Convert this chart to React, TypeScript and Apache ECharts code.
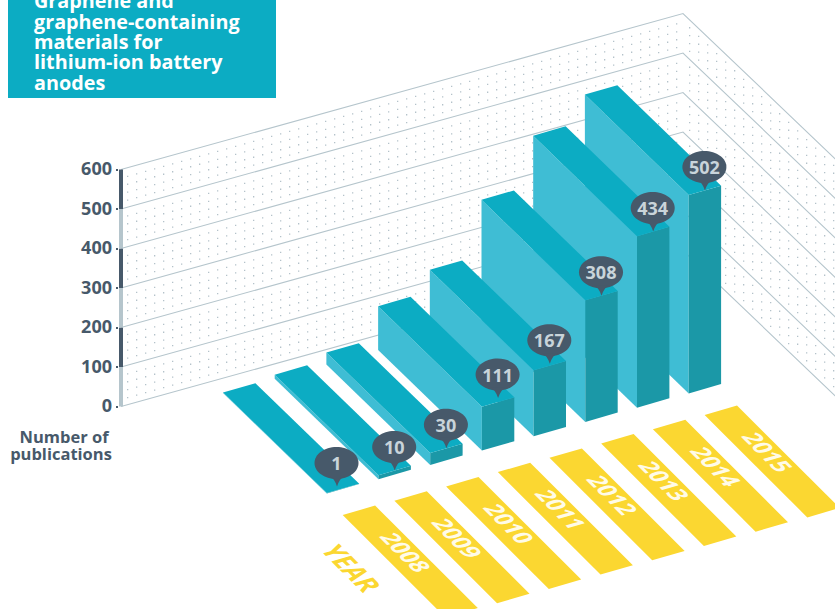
import React, { useEffect, useRef } from "react";
import * as echarts from "echarts";

const years = ["2008", "2009", "2010", "2011", "2012", "2013", "2014", "2015"];
const publications = [1, 10, 30, 111, 167, 308, 434, 502];
const levels = [0, 100, 200, 300, 400, 500, 600];
const titleLines = ["Graphene and", "graphene-containing", "materials for", "lithium-ion battery", "anodes"];

const FONT = '"Open Sans", sans-serif';
const SLATE = "#47596a";
const TEAL_TOP = "#0cacc3";
const TEAL_SIDE = "#3fbdd4";
const TEAL_FRONT = "#1b98a7";
const YELLOW = "#fbd731";
const WALL_LINE = "#b5c5cc";
const WALL_DOT = "#b4c2ca";

// Oblique projection of the floor plane, in pixels.
const BAR_ORIGIN = [223, 393];
const STRIP_ORIGIN = [342.7, 515];
const STEP_SLOPE = -14.3 / 51.7;
const ACROSS = [32.4, -9.4];
const ALONG = [103.8, 100.5];
const STRIP_ALONG = [102.7, 102.5];
const WALL_LEFT = 121;
const WALL_RUN = 562;
const WALL_RISE = 156;
const SIDE_SLOPE = 0.955;

// Small nudges that keep the crowded value markers clear of each other.
const bubbleNudge: Record<string, number[]> = { "2008": [-6, -2], "2011": [0, -4], "2012": [0, -2] };

const groundPoint = (api: any, index: number, origin: number[], along: number[], u: number, v: number) => {
  const dx = api.coord([index, 0])[0] - api.coord([0, 0])[0];
  return [
    origin[0] + dx + u * ACROSS[0] + v * along[0],
    origin[1] + dx * STEP_SLOPE + u * ACROSS[1] + v * along[1],
  ];
};

const barHeight = (api: any, index: number, value: number) =>
  api.coord([index, 0])[1] - api.coord([index, value])[1];

// Writes text on the floor plane: a rotate / scale / rotate split of the plane's affine map.
const floorText = (text: string, cx: number, cy: number, fontSize: number, stretch: number, lift: number, fill: string) => {
  const alen = Math.hypot(STRIP_ALONG[0], STRIP_ALONG[1]);
  const wlen = Math.hypot(ACROSS[0], ACROSS[1]);
  const m00 = (STRIP_ALONG[0] / alen) * stretch;
  const m10 = (STRIP_ALONG[1] / alen) * stretch;
  const m01 = (-ACROSS[0] / wlen) * lift;
  const m11 = (-ACROSS[1] / wlen) * lift;
  const e = (m00 + m11) / 2;
  const f = (m00 - m11) / 2;
  const g = (m10 + m01) / 2;
  const h = (m10 - m01) / 2;
  const q = Math.hypot(e, h);
  const r = Math.hypot(f, g);
  const a1 = Math.atan2(g, f);
  const a2 = Math.atan2(h, e);
  return {
    type: "group",
    x: cx,
    y: cy,
    rotation: -(a2 + a1) / 2,
    scaleX: q + r,
    scaleY: q - r,
    children: [
      {
        type: "text",
        rotation: -(a2 - a1) / 2,
        style: { text, fontSize, fontWeight: 700, fontFamily: FONT, fill, align: "center", verticalAlign: "middle" },
      },
    ],
  };
};

// Back and side walls: one rule per level, plus the dot rows of the band below it.
const renderWall = (_params: any, api: any) => {
  const level = api.value(1);
  const y = api.coord([0, level])[1];
  const cornerX = WALL_LEFT + WALL_RUN;
  const cornerY = y - WALL_RISE;
  const children: any[] = [
    {
      type: "polyline",
      shape: { points: [[WALL_LEFT, y], [cornerX, cornerY], [cornerX + 260, cornerY + 260 * SIDE_SLOPE]] },
      style: { stroke: WALL_LINE, lineWidth: 1.1, fill: "none" },
    },
  ];
  if (level > 0) {
    const below = api.coord([0, level - 100])[1];
    const rowGap = (below - y) / 5;
    let d = "";
    for (let k = 1; k <= 4; k++) {
      for (let x = WALL_LEFT + 6; x < cornerX - 2; x += 9) {
        const py = y + k * rowGap - (x - WALL_LEFT) * (WALL_RISE / WALL_RUN);
        d += `M${x.toFixed(1)} ${py.toFixed(1)}h1.3v1.3h-1.3z`;
      }
      for (let t = 6; t < 170; t += 9) {
        const py = cornerY + k * rowGap + t * SIDE_SLOPE;
        d += `M${(cornerX + t).toFixed(1)} ${py.toFixed(1)}h1.3v1.3h-1.3z`;
      }
    }
    children.push({ type: "path", shape: { pathData: d }, style: { fill: WALL_DOT } });
    children.push({
      type: "rect",
      shape: { x: WALL_LEFT - 2, y, width: 4, height: below - y },
      style: { fill: level % 200 === 0 ? SLATE : WALL_LINE },
    });
  }
  return { type: "group", children };
};

const renderBar = (_params: any, api: any) => {
  const i = api.value(0);
  const hgt = barHeight(api, i, api.value(1));
  const p = (u: number, v: number) => groundPoint(api, i, BAR_ORIGIN, ALONG, u, v);
  const up = (pt: number[]) => [pt[0], pt[1] - hgt];
  const bl = p(0, 0);
  const br = p(1, 0);
  const fr = p(1, 1);
  const fl = p(0, 1);
  return {
    type: "group",
    children: [
      { type: "polygon", shape: { points: [up(bl), up(fl), fl, bl] }, style: { fill: TEAL_SIDE } },
      { type: "polygon", shape: { points: [up(fl), up(fr), fr, fl] }, style: { fill: TEAL_FRONT } },
      { type: "polygon", shape: { points: [up(bl), up(br), up(fr), up(fl)] }, style: { fill: TEAL_TOP } },
    ],
  };
};

// Speech-bubble value marker whose tip sits on the middle of the bar's front top edge.
const renderBubble = (_params: any, api: any) => {
  const i = api.value(0);
  const value = api.value(1);
  const hgt = barHeight(api, i, value);
  const p = groundPoint(api, i, BAR_ORIGIN, ALONG, 0.5, 1);
  const nudge = bubbleNudge[years[i]] || [0, 0];
  const tx = p[0] + nudge[0];
  const ty = p[1] - hgt + nudge[1];
  const cx = tx - 0.5;
  const cy = ty - 23.5;
  const tail =
    `M${cx - 7} ${cy + 13}` +
    `Q${tx - 2.5} ${cy + 15.5} ${tx} ${ty}` +
    `Q${tx + 2.5} ${cy + 15.5} ${cx + 8} ${cy + 13}z`;
  return {
    type: "group",
    children: [
      { type: "ellipse", shape: { cx, cy, rx: 22, ry: 16 }, style: { fill: SLATE } },
      { type: "path", shape: { pathData: tail }, style: { fill: SLATE } },
      {
        type: "text",
        x: cx,
        y: cy,
        style: {
          text: String(value),
          fontSize: 18,
          fontWeight: 700,
          fontFamily: FONT,
          fill: "#c9d4da",
          align: "center",
          verticalAlign: "middle",
        },
      },
    ],
  };
};

const renderStrip = (_params: any, api: any) => {
  const i = api.value(0);
  const p = (u: number, v: number) => groundPoint(api, i, STRIP_ORIGIN, STRIP_ALONG, u, v);
  const c = p(0.62, 0.42);
  return {
    type: "group",
    children: [
      { type: "polygon", shape: { points: [p(0, 0), p(1, 0), p(1, 1), p(0, 1)] }, style: { fill: YELLOW } },
      floorText(years[i], c[0], c[1], 20, 1.15, 1.2, "#fffbe8"),
    ],
  };
};

const renderYearCaption = () => floorText("YEAR", 352, 568, 24, 1.02, 1.2, YELLOW);

const App = () => {
  const ref = useRef<HTMLDivElement>(null);
  useEffect(() => {
    const chart = echarts.init(ref.current, null, { renderer: "svg" });
    const barData = years.map((y, i) => [y, publications[i]]);
    chart.setOption({
      animation: false,
      backgroundColor: "#ffffff",
      grid: { left: 121, top: 169.5, width: 413.6, height: 237 },
      xAxis: { type: "category", data: years, show: false },
      yAxis: {
        type: "value",
        min: 0,
        max: 600,
        interval: 100,
        offset: 3,
        splitLine: { show: false },
        axisLine: { show: false },
        axisTick: { show: true, length: 2, lineStyle: { color: SLATE, width: 2 } },
        axisLabel: {
          margin: 6,
          formatter: "{v|{value}}",
          rich: {
            v: { color: SLATE, fontSize: 18, fontWeight: 700, fontFamily: FONT, padding: [0, 0, 3, 0] },
          },
        },
      },
      graphic: [
        { type: "rect", shape: { x: 8, y: 0, width: 268, height: 98 }, style: { fill: TEAL_TOP } },
        {
          type: "text",
          x: 34,
          y: -9.4,
          style: {
            text: titleLines.join("\n"),
            fontSize: 19.8,
            lineHeight: 20.4,
            fontWeight: 700,
            fontFamily: FONT,
            fill: "#ffffff",
          },
        },
        {
          type: "text",
          x: 64,
          y: 428,
          style: { text: "Number of", fontSize: 16.5, fontWeight: 700, fontFamily: FONT, fill: SLATE, align: "center" },
        },
        {
          type: "text",
          x: 61,
          y: 445,
          style: { text: "publications", fontSize: 16.5, fontWeight: 700, fontFamily: FONT, fill: SLATE, align: "center" },
        },
      ],
      series: [
        { type: "custom", silent: true, z: 1, data: levels.map((l) => [years[0], l]), encode: { x: 0, y: 1 }, renderItem: renderWall },
        { type: "custom", silent: true, z: 2, data: barData.slice().reverse(), encode: { x: 0, y: 1 }, renderItem: renderBar },
        { type: "custom", silent: true, z: 3, data: barData, encode: { x: 0, y: 1 }, renderItem: renderStrip },
        { type: "custom", silent: true, z: 3, data: [[years[0], 0]], encode: { x: 0, y: 1 }, renderItem: renderYearCaption },
        { type: "custom", silent: true, z: 4, data: barData, encode: { x: 0, y: 1 }, renderItem: renderBubble },
      ],
    });
    return () => chart.dispose();
  }, []);
  return <div ref={ref} style={{ position: "fixed", left: 0, top: 0, width: 835, height: 609 }} />;
};

export default App;
